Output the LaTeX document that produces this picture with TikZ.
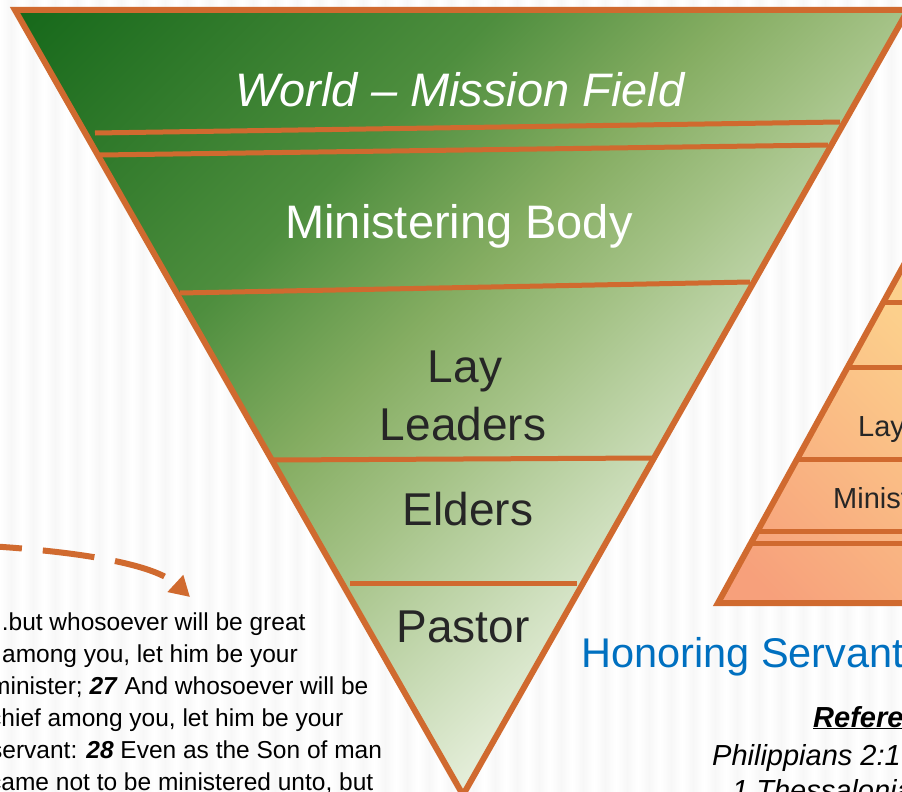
\documentclass[tikz,border=0pt]{standalone}
\usepackage{fontspec}
\setmainfont{Liberation Sans}
\usetikzlibrary{arrows.meta}
\definecolor{edge}{HTML}{D06A2F}
\definecolor{txt}{HTML}{262626}
\definecolor{honblue}{HTML}{0070C0}
\definecolor{otop}{HTML}{FCD08C}
\definecolor{obot}{HTML}{F7A07B}
\definecolor{ga}{HTML}{17691B}
\definecolor{gb}{HTML}{4E8E3E}
\definecolor{gc}{HTML}{85AD62}
\definecolor{gd}{HTML}{A4C286}
\definecolor{ge}{HTML}{E3EDD8}
\pgfdeclarehorizontalshading{greenshade}{100bp}{color(0bp)=(ga); color(15bp)=(ga); color(35bp)=(gb); color(45bp)=(gc); color(52bp)=(gd); color(66bp)=(ge); color(100bp)=(ge)}
\begin{document}
\begin{tikzpicture}[x=1pt,y=-1pt,
  edgeline/.style={draw=edge, line width=6pt, line join=miter},
  bandline/.style={draw=edge, line width=5pt},
  bigw/.style={text=white, font=\fontsize{47}{56}\selectfont, inner sep=0pt, anchor=base},
  bigd/.style={text=txt, font=\fontsize{46}{55}\selectfont, inner sep=0pt, anchor=base},
  pyr/.style={text=txt, font=\fontsize{29}{34}\selectfont, inner sep=0pt, anchor=base west},
  verse/.style={text=black, font=\fontsize{24.5}{29}\selectfont, inner sep=0pt, anchor=base west},
  refs/.style={text=black, font=\fontsize{29}{34}\selectfont\itshape, inner sep=0pt, anchor=base west}]
\useasboundingbox (0,0) rectangle (902,792);
\clip (0,0) rectangle (902,792);
% background with faint stripes
\fill[white] (0,0) rectangle (902,792);
\foreach \x in {0,22,...,902} {
  \shade[left color=white, right color=black!3] (\x,0) rectangle (\x+11,792);
  \shade[left color=black!3, right color=white] (\x+11,0) rectangle (\x+22,792);
}
% orange pyramid (right, partly visible)
\coordinate (pbl) at (718,603);
\coordinate (ptop) at (1000,90);
\coordinate (pbr) at (1282,603);
\begin{scope}
  \clip (pbl) -- (ptop) -- (pbr) -- cycle;
  \shade[left color=otop, right color=obot, shading angle=-45] (700,240) rectangle (910,610);
\end{scope}
\foreach \yy/\xx in {302/884, 367/848, 459/797, 531/758, 543/751} {
  \draw[bandline] (\xx,\yy) -- (1100,\yy);
}
\draw[edgeline] (ptop) -- (pbl) -- (pbr);
\node[pyr] (pl) at (858,436) {Lay Leaders};
\node[pyr] (pm) at (833,508) {Ministering Body};
% green inverted triangle
\coordinate (gtl) at (15,10);
\coordinate (gtr) at (908,10);
\coordinate (gap) at (463,795);
\shade[shading=greenshade, shading angle=-45] (gtl) -- (gtr) -- (gap) -- cycle;
\draw[bandline] (95,133) -- (840,122);
\draw[bandline] (100,155) -- (828,145);
\draw[bandline] (180,293) -- (750,282);
\draw[bandline] (273,460) -- (652,458);
\draw[bandline] (350,583) -- (577,583);
\draw[edgeline] (gtl) -- (gtr) -- (gap) -- cycle;
\node[bigw, font=\fontsize{47}{56}\selectfont\itshape] (world) at (460,106) {World \textendash{} Mission Field};
\node[bigw] (body) at (459,238) {Ministering Body};
\node[bigd] (lay) at (465,382) {Lay};
\node[bigd] (leaders) at (463,440) {Leaders};
\node[bigd] (elders) at (468,525) {Elders};
\node[bigd] (pastor) at (463,642) {Pastor};
% dashed arrow
\coordinate (arrS) at (-30,545);
\coordinate (arrE) at (190,597);
\draw[edge, line width=6pt, dash pattern=on 52pt off 21pt, -{Triangle[length=20pt,width=22pt]}]
  (arrS) .. controls (50,549) and (150,560) .. (arrE);
% verse text
\node[verse] (v1) at (-12,630) {...but whosoever will be great};
\node[verse] (v2) at (2,662) {among you, let him be your};
\node[verse] (v3) at (-10,694) {minister; \textbf{\textit{27}} And whosoever will be};
\node[verse] (v4) at (-11,726) {chief among you, let him be your};
\node[verse] (v5) at (-10,758) {servant: \textbf{\textit{28}} Even as the Son of man};
\node[verse] (v6) at (-11,790) {came not to be ministered unto, but};
% right texts
\node[text=honblue, font=\fontsize{41.5}{48}\selectfont, inner sep=0pt, anchor=base west] (hon) at (581,667) {Honoring Servant};
\node[refs, font=\fontsize{29}{34}\selectfont\bfseries\itshape] (ref) at (813,727) {\underline{References}};
\node[refs] (phil) at (712,765) {Philippians 2:1};
\node[refs] (thes) at (732,800) {1 Thessalonians};
\end{tikzpicture}
\end{document}
